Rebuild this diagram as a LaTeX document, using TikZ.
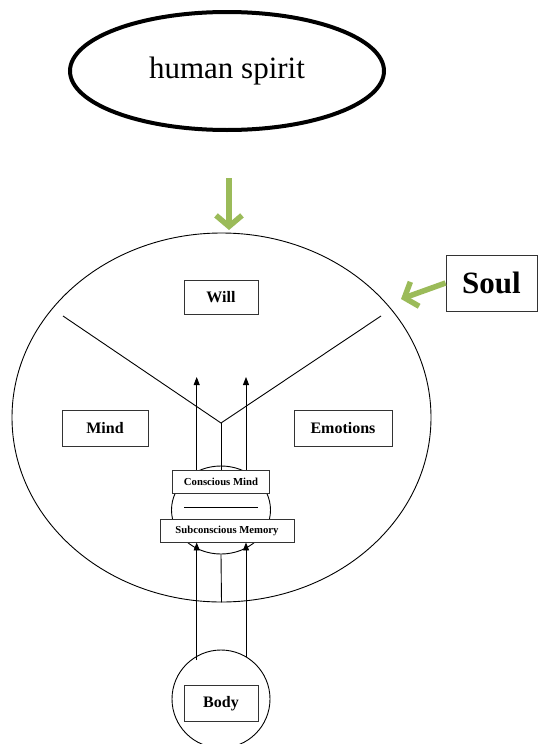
\documentclass[tikz,border=0pt]{standalone}
\usepackage{fontspec}
\setmainfont{Liberation Serif}
\usetikzlibrary{shapes.geometric,arrows.meta}
\definecolor{leaf}{HTML}{9BBB59}
\tikzset{
  lbl/.style={draw=black!80, line width=0.9pt, fill=white, inner sep=0pt, font=\bfseries\fontsize{16}{18}\selectfont},
  small/.style={lbl, font=\bfseries\fontsize{10.7}{12}\selectfont},
  thin/.style={line width=0.9pt},
  uparrow/.style={thin, -{Triangle[length=8pt,width=6pt]}},
  greenarrow/.style={leaf, line width=5.5pt, -{Straight Barb[length=11pt,width=26pt,line width=5.5pt]}}
}
\begin{document}
\begin{tikzpicture}[x=1pt,y=-1pt]
\useasboundingbox (0,0) rectangle (538,744);
% human spirit
\node[ellipse, draw, line width=4pt, minimum width=314pt, minimum height=118pt, inner sep=0pt,
      font=\fontsize{31}{33}\selectfont] (spirit) at (227,71) {human spirit};
% soul circle
\node[ellipse, draw, thin, minimum width=419pt, minimum height=369pt, inner sep=0pt] (soul) at (221.5,417.5) {};
% green arrow from spirit to soul
\coordinate (g1) at (229,178);
\coordinate (g2) at (229,230);
\draw[greenarrow] (g1) -- (g2);
% soul label
\node[lbl, minimum width=91pt, minimum height=56pt, font=\bfseries\fontsize{31}{33}\selectfont] (soullbl) at (491.5,283) {Soul};
\coordinate (s2) at (401,299);
\draw[greenarrow] (soullbl.west) -- (s2);
% V lines
\coordinate (vl) at (63,316);
\coordinate (vr) at (381,316);
\coordinate (v) at (221,423);
\draw[thin] (vl) -- (v) -- (vr);
% boxes
\node[lbl, minimum width=74pt, minimum height=34pt] (will) at (221,297) {Will};
\node[lbl, minimum width=86pt, minimum height=36pt] (mind) at (105,428) {Mind};
\node[lbl, minimum width=98pt, minimum height=36pt] (emo) at (343,428) {Emotions};
% small circle
\node[ellipse, draw, thin, minimum width=99pt, minimum height=88pt, inner sep=0pt] (mid) at (221,510) {};
\coordinate (d1) at (184,507);
\coordinate (d2) at (258,507);
\draw[thin] (d1) -- (d2);
\node[small, minimum width=97pt, minimum height=23pt] (cm) at (221,481.5) {Conscious Mind};
\node[small, minimum width=134pt, minimum height=23pt] (sm) at (227,530.5) {Subconscious Memory};
% vertical from V to conscious mind
\draw[thin] (v) -- (cm.north);
% arrows up from conscious mind
\coordinate (a1) at (196.7,377);
\coordinate (a2) at (246,377);
\draw[uparrow] (cm.north -| a1) -- (a1);
\draw[uparrow] (cm.north -| a2) -- (a2);
% middle line from small circle to soul bottom
\draw[thin] (mid.south) -- (soul.south);
% body
\node[circle, draw, thin, minimum size=98pt, inner sep=0pt] (bodyc) at (221,699) {};
\node[lbl, minimum width=74pt, minimum height=36pt] (body) at (221,703.7) {Body};
\coordinate (b1) at (196.7,660);
\coordinate (b2) at (246,657);
\draw[uparrow] (b1) -- (sm.south -| b1);
\draw[uparrow] (b2) -- (sm.south -| b2);
\end{tikzpicture}
\end{document}
